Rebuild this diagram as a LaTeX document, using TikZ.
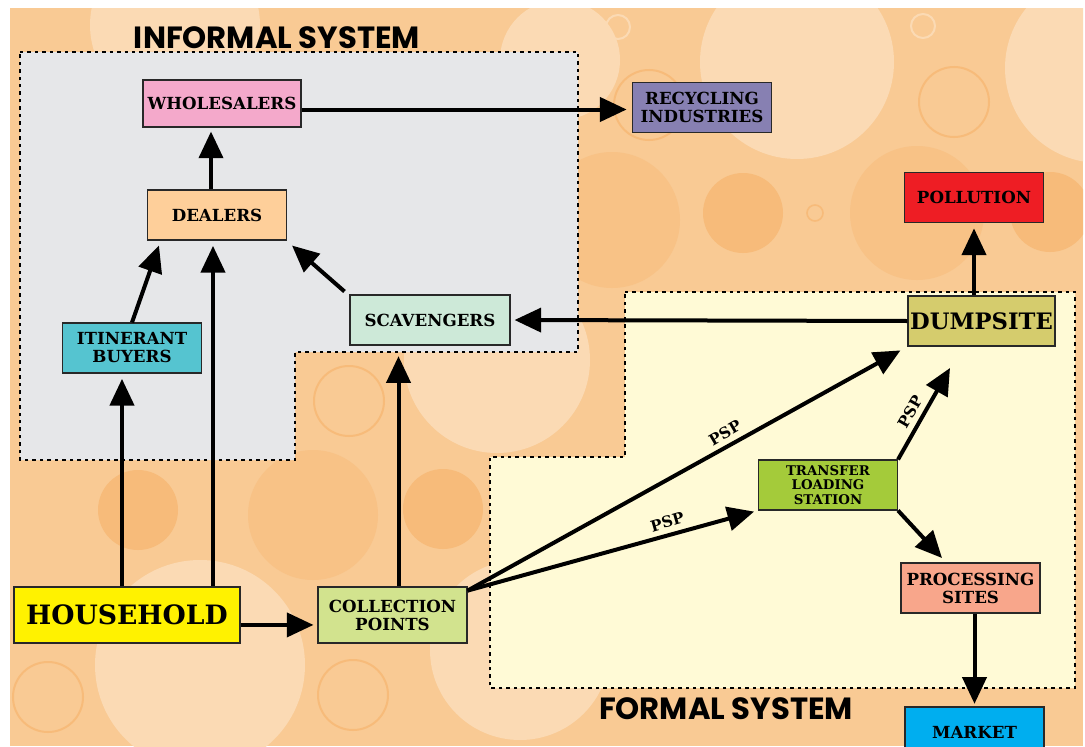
\documentclass[tikz,border=0pt]{standalone}
\usepackage{fontspec}
\setmainfont{DejaVu Serif}
\newfontfamily\headfont{Poppins}
\usepackage{xcolor}
\usetikzlibrary{arrows.meta,calc}

\definecolor{bgbase}{RGB}{249,202,148}
\definecolor{bglight}{RGB}{251,218,180}
\definecolor{bgmid}{RGB}{248,194,134}
\definecolor{bgdark}{RGB}{247,187,122}
\definecolor{informalfill}{RGB}{230,231,233}
\definecolor{formalfill}{RGB}{255,250,214}

\begin{document}
\begin{tikzpicture}[x=0.75pt,y=0.75pt,yscale=-1,xscale=1,
  box/.style={draw={rgb, 255:red, 40; green, 40; blue, 40},line width=0.8pt,inner sep=0pt,align=center,
    minimum width=104.25pt,minimum height=37.5pt,font=\fontsize{12.5}{13.5}\selectfont\bfseries},
  flow/.style={line width=3pt,-{Triangle[length=20pt,width=18pt]}},
  region/.style={line width=1.8pt,dash pattern=on 2.6pt off 3pt},
  heading/.style={font=\headfont\fontsize{23}{25}\selectfont\bfseries},
  psp/.style={font=\fontsize{11.5}{12}\selectfont\bfseries,anchor=south,inner sep=4pt}]
\useasboundingbox (0,0) rectangle (1085,746);

%Background
\fill [white] (0,0) rectangle (1085,746);
\fill [bgbase] (10,8) rectangle (1083,746);
\begin{scope}
\clip (10,8) rectangle (1083,746);
\fill [bglight] (797,62) circle (97);
\fill [bglight] (1100,68) circle (95);
\fill [bglight] (560,60) circle (60);
\fill [bglight] (175,25) circle (85);
\fill [bglight] (497,360) circle (93);
\fill [bglight] (797,390) circle (90);
\fill [bglight] (200,665) circle (105);
\fill [bglight] (520,650) circle (90);
\fill [bgmid] (612,220) circle (68);
\fill [bgmid] (917,213) circle (67);
\fill [bgmid] (313,515) circle (65);
\fill [bgdark] (743,213) circle (40);
\fill [bgdark] (1050,212) circle (40);
\fill [bgdark] (443,509) circle (40);
\fill [bgdark] (138,510) circle (40);
\draw [bgdark,line width=1.5pt] (954,102) circle (35);
\draw [bgdark,line width=1.5pt] (649,105) circle (35);
\draw [bgdark,line width=1.5pt] (349,401) circle (35);
\draw [bgdark,line width=1.5pt] (48,697) circle (35);
\draw [bgdark,line width=1.5pt] (353,695) circle (35);
\draw [bglight,line width=1.5pt] (618,27) circle (12);
\draw [bglight,line width=1.5pt] (923,26) circle (12);
\draw [bgdark,line width=1.2pt] (815,213) circle (8);
\end{scope}

%Shape: Polygon [informal]
\draw [region,fill=informalfill] (20,52) -- (578,52) -- (578,352) -- (295,352) -- (295,460) -- (20,460) -- cycle ;
%Shape: Polygon [formal]
\draw [region,fill=formalfill] (625,292) -- (1075,292) -- (1075,688) -- (490,688) -- (490,457) -- (625,457) -- cycle ;

% Text Node
\node [heading] (infotitle) at (277,38) {INFORMAL SYSTEM};
% Text Node
\node [heading] (formtitle) at (726,709) {FORMAL SYSTEM};

% Boxes
\node [box,fill={rgb, 255:red, 244; green, 169; blue, 203},minimum width=118.5pt,minimum height=35.25pt] (whole) at (222,103.5) {WHOLESALERS};
\node [box,fill={rgb, 255:red, 135; green, 128; blue, 178}] (recyc) at (702,107.5) {RECYCLING\\INDUSTRIES};
\node [box,fill={rgb, 255:red, 254; green, 207; blue, 154}] (dealers) at (217,215) {DEALERS};
\node [box,fill={rgb, 255:red, 85; green, 196; blue, 208}] (itin) at (132,348) {ITINERANT\\BUYERS};
\node [box,fill={rgb, 255:red, 205; green, 233; blue, 216},minimum width=120pt] (scav) at (430,320) {SCAVENGERS};
\node [box,fill={rgb, 255:red, 238; green, 29; blue, 36}] (pollu) at (974,197.5) {POLLUTION};
\node [box,fill={rgb, 255:red, 213; green, 204; blue, 109},minimum width=110.25pt,font=\fontsize{17}{18}\selectfont\bfseries] (dump) at (981.5,321) {DUMPSITE};
\node [box,fill={rgb, 255:red, 164; green, 203; blue, 58},font=\fontsize{10}{11}\selectfont\bfseries] (trans) at (828,485) {TRANSFER\\LOADING\\STATION};
\node [box,fill={rgb, 255:red, 248; green, 166; blue, 139}] (proc) at (970.5,588) {PROCESSING\\SITES};
\node [box,fill={rgb, 255:red, 0; green, 174; blue, 239}] (market) at (974.5,732) {MARKET};
\node [box,fill={rgb, 255:red, 255; green, 242; blue, 0},minimum width=169.5pt,minimum height=42pt,font=\fontsize{20}{21}\selectfont\bfseries] (house) at (127,615) {HOUSEHOLD};
\node [box,fill={rgb, 255:red, 210; green, 227; blue, 142},minimum width=111.75pt,minimum height=42pt] (collect) at (392.5,615) {COLLECTION\\POINTS};

\coordinate (dumpin) at (950,368);
\coordinate (procin) at (942,558);

%Straight Lines
\draw [flow,shorten >=4pt] ($(whole.east)+(0,6)$) -- ($(recyc.west |- whole.east)+(0,6)$);
\draw [flow,shorten >=3pt] ($(dealers.north)+(-6,0)$) -- ($(dealers.north |- whole.south)+(-6,0)$);
\draw [flow] (itin.north) -- ($(dealers.south west)+(12,5)$);
\draw [flow,shorten >=4pt] ($(house.north -| dealers.south)+(-4,0)$) -- ($(dealers.south)+(-4,0)$);
\draw [flow,shorten >=4pt] ($(house.north -| itin.south)+(-10,0)$) -- ($(itin.south)+(-10,0)$);
\draw [flow] ($(scav.north west)+(-5,-3)$) -- ($(dealers.south east)+(5,5)$);
\draw [flow,shorten >=8pt] ($(collect.north)+(6,0)$) -- ($(collect.north |- scav.south)+(6,0)$);
\draw [flow,shorten >=3pt] (house.-5) -- (house.-5 -| collect.west);
\draw [flow,shorten >=3pt] (dump.west) -- (scav.east);
\draw [flow,shorten >=4pt] (dump.north -| pollu.south) -- (pollu.south);
\draw [flow,shorten >=6pt] (collect.18) -- (dump.south west) node [psp,pos=0.6,rotate=30] {PSP};
\draw [flow,shorten >=3pt] (collect.18) -- (trans.south west) node [psp,pos=0.7,rotate=16] {PSP};
\draw [flow] (trans.north east) -- (dumpin) node [psp,pos=0.45,rotate=60] {PSP};
\draw [flow] (trans.south east) -- (procin);
\draw [flow,shorten >=2pt] ($(proc.south)+(4,0)$) -- ($(market.north)$);

\end{tikzpicture}
\end{document}
